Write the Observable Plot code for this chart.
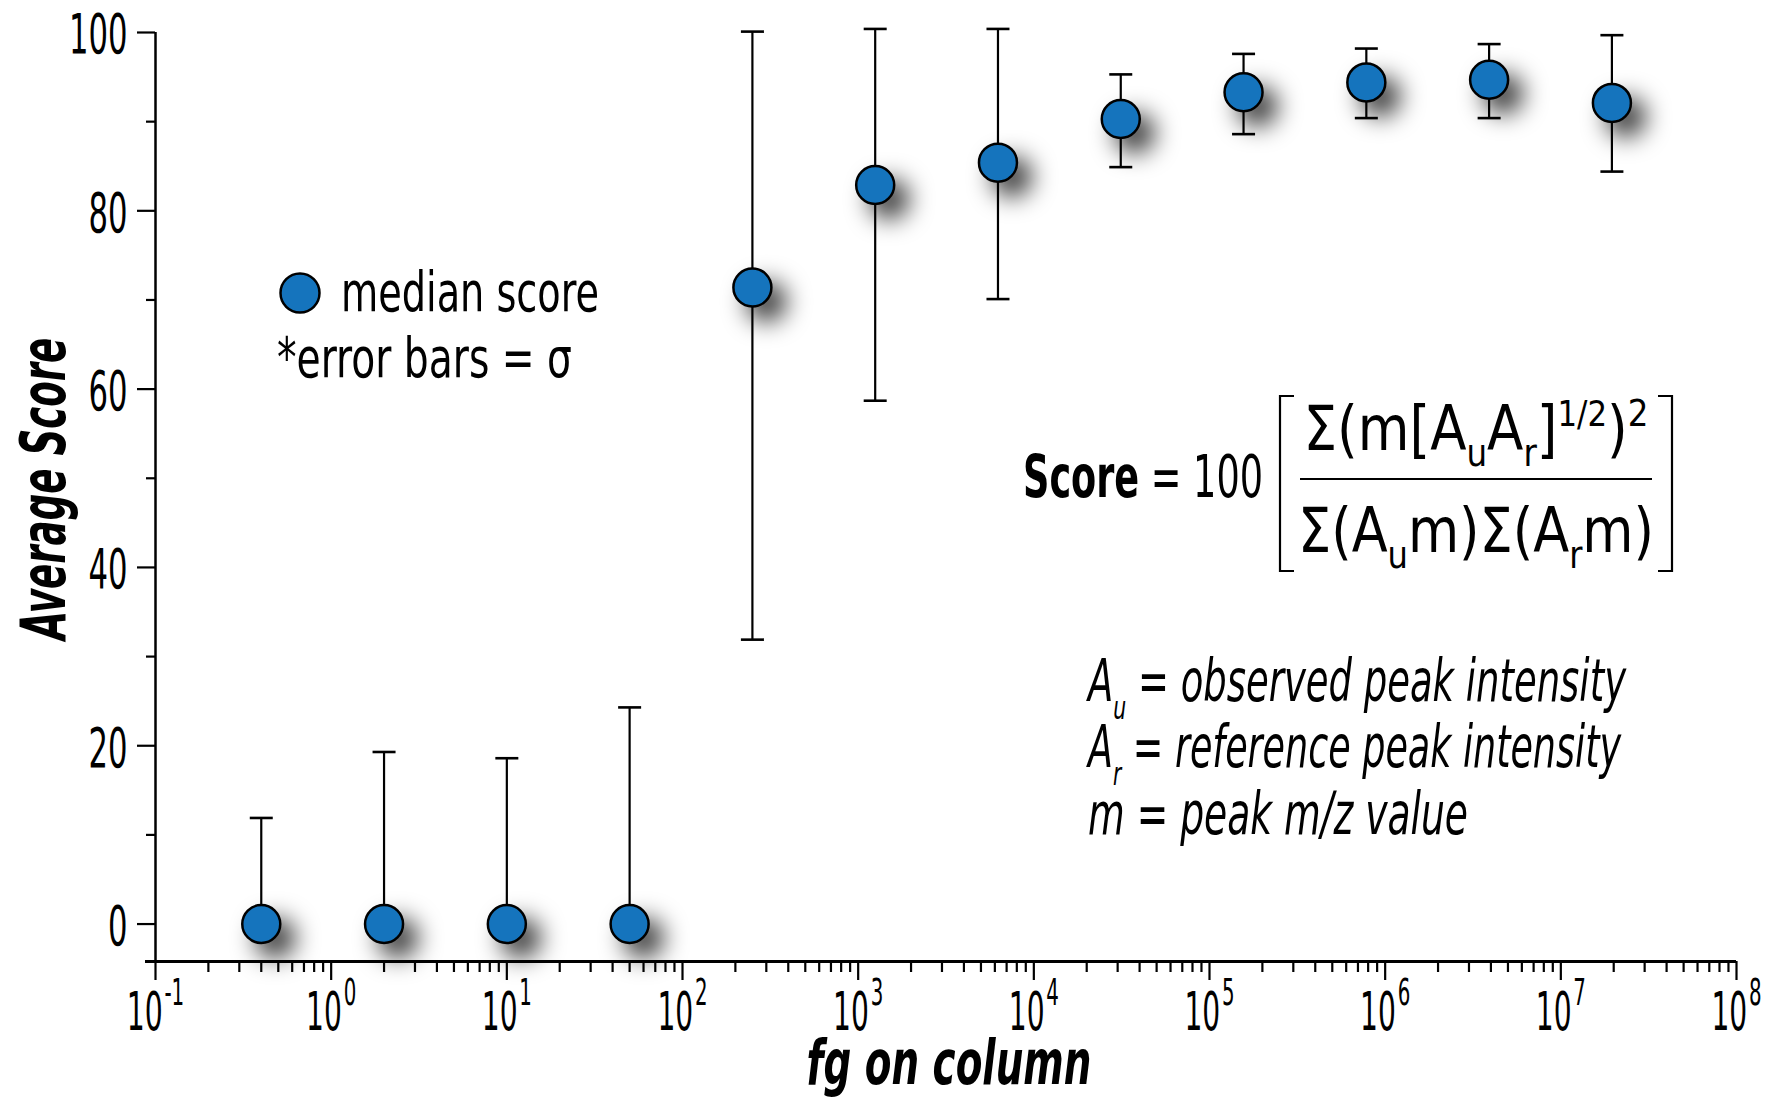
<!DOCTYPE html>
<html><head><meta charset="utf-8">
<script src="https://cdn.jsdelivr.net/npm/d3@7"></script>
<script src="https://cdn.jsdelivr.net/npm/@observablehq/plot@0.6"></script>
<style>
body{margin:0;background:#fff;}
#wrap{position:relative;width:1773px;height:1099px;}
svg{display:block;}
</style></head><body><div id="wrap"></div>
<script>
// ---- data ----
const fgOnColumn = [0.4, 2, 10, 50, 250, 1250, 6250, 31250, 156250, 781250, 3906250, 19531250];
const medianScore = [0, 0, 0, 0, 71.4, 82.9, 85.4, 90.3, 93.3, 94.4, 94.7, 92.1];
const errLow  = [0, 0, 0, 0, 31.9, 58.7, 70.1, 84.9, 88.6, 90.4, 90.4, 84.4];
const errHigh = [11.9, 19.3, 18.6, 24.3, 100.1, 100.4, 100.4, 95.3, 97.6, 98.2, 98.7, 99.7];
const yMajorTicks = [0, 20, 40, 60, 80, 100];
const yMinorTicks = [10, 30, 50, 70, 90];
const xMajorExponents = [-1, 0, 1, 2, 3, 4, 5, 6, 7, 8];
const xMinorMultipliers = [2, 3, 4, 5, 6, 7, 8, 9];
const xLabel = "fg on column";
const yLabel = "Average Score";

const xMajorTicks = xMajorExponents.map(e => Math.pow(10, e));
const xMinorTicks = xMajorExponents.slice(0, -1).flatMap(e => xMinorMultipliers.map(m => m * Math.pow(10, e)));
const data = fgOnColumn.map((f, i) => ({fg: f, median: medianScore[i], lo: errLow[i], hi: errHigh[i]}));

const FONT = '"Liberation Sans Narrow","DejaVu Sans Condensed","DejaVu Sans",sans-serif';
const BLUE = "#1574bd";
const capSymbol = {draw(ctx) { ctx.moveTo(-11.5, 0); ctx.lineTo(11.5, 0); }};

const chart = Plot.plot({
  width: 1773, height: 1099,
  marginLeft: 155, marginRight: 37, marginTop: 32, marginBottom: 138,
  x: {type: "log", domain: [0.1, 1e8]},
  y: {domain: [-4.2, 100]},
  style: {fontFamily: FONT, color: "#000", background: "#fff", overflow: "visible"},
  marks: [
    Plot.axisY({ticks: yMinorTicks, tickSize: 9, tickFormat: () => "", strokeWidth: 2.2, label: null}),
    Plot.axisY({ticks: yMajorTicks, tickSize: 18, tickPadding: 10, strokeWidth: 2.2, fontSize: "56px", label: null}),
    Plot.axisX({ticks: xMinorTicks, tickSize: 11, tickFormat: () => "", strokeWidth: 2.2, label: null}),
    Plot.axisX({ticks: xMajorTicks, tickSize: 19, tickPadding: 13, strokeWidth: 2.2, fontSize: "54px",
      tickFormat: d => String(Math.round(Math.log10(d))), label: null}),
    Plot.ruleX([0.1], {stroke: "#000", strokeWidth: 2.5}),
    Plot.ruleY([-4.2], {stroke: "#000", strokeWidth: 3, insetLeft: -10}),
    // shadows
    Plot.dot(data, {x: "fg", y: "median", r: 20, fill: "#000", fillOpacity: 0.78, dx: 14, dy: 14}),
    // error bars
    Plot.ruleX(data, {x: "fg", y1: "lo", y2: "hi", stroke: "#000", strokeWidth: 2.2}),
    Plot.dot(data, {x: "fg", y: "hi", symbol: capSymbol, stroke: "#000", fill: "none", strokeWidth: 2.6}),
    Plot.dot(data, {x: "fg", y: "lo", symbol: capSymbol, stroke: "#000", fill: "none", strokeWidth: 2.6}),
    // median points
    Plot.dot(data, {x: "fg", y: "median", r: 19, fill: BLUE, stroke: "#000", strokeWidth: 2.5}),
    // axis titles
    Plot.text([yLabel], {text: d => d, frameAnchor: "left", rotate: -90, dx: -91, lineAnchor: "bottom",
      fontSize: 62, fontWeight: "bold", fontStyle: "italic", fill: "#000"}),
    Plot.text([xLabel], {text: d => d, frameAnchor: "bottom", dx: 5, dy: 122, lineAnchor: "bottom",
      fontSize: 62, fontWeight: "bold", fontStyle: "italic", fill: "#000"})
  ]
});
const wrap = document.getElementById("wrap");
wrap.appendChild(chart);
const svg = d3.select(chart);
const W0 = wrap.getBoundingClientRect();

// shadow filter
const defs = svg.insert("defs", ":first-child");
defs.append("filter").attr("id", "dotShadow").attr("x", "-200%").attr("y", "-200%").attr("width", "500%").attr("height", "500%")
  .append("feGaussianBlur").attr("stdDeviation", 12);
svg.select('g[aria-label="dot"]').attr("filter", "url(#dotShadow)");

// drop empty minor labels
svg.selectAll('g[aria-label$="tick label"] text').filter(function() { return this.textContent === ""; }).remove();

function fitW(el, w) { el.setAttribute("textLength", w); el.setAttribute("lengthAdjust", "spacingAndGlyphs"); }
function prependShift(el, dx, dy) {
  el.setAttribute("transform", `translate(${dx},${dy}) ` + (el.getAttribute("transform") || ""));
}

// x tick labels as 10^e, baseline set explicitly
svg.selectAll('g[aria-label="x-axis tick label"] text').each(function() {
  const e = this.textContent;
  const t = d3.select(this);
  t.text(null).attr("y", 0).attr("dy", 0);
  t.append("tspan").attr("font-size", 54).text("10");
  t.append("tspan").attr("dx", 3).attr("dy", -25).attr("font-size", 38).text(e);
  fitW(this, this.getComputedTextLength() * 0.6);
  const m = this.getCTM();
  prependShift(this, 0, 1030 - m.f);
});

// y tick labels: condensed digits
svg.selectAll('g[aria-label="y-axis tick label"] text').each(function() {
  fitW(this, this.textContent.length * 19.5);
  prependShift(this, 0, 3);
});

// axis titles: condense and centre
svg.selectAll('g[aria-label="text"] text').each(function() {
  const isY = this.textContent === yLabel;
  fitW(this, isY ? 302 : 285);
  const r = this.getBoundingClientRect();
  if (isY) {
    const cy = r.top - W0.top + r.height / 2;
    prependShift(this, 0, 490 - cy);
  } else {
    const cx = r.left - W0.left + r.width / 2;
    prependShift(this, 949 - cx, 0);
  }
});

// annotations
const ann = svg.append("g").attr("font-family", FONT).attr("fill", "#000").attr("text-anchor", "start");
ann.append("circle").attr("cx", 300).attr("cy", 293).attr("r", 19.5).attr("fill", BLUE).attr("stroke", "#000").attr("stroke-width", 2.5);
const t1 = ann.append("text").attr("x", 341).attr("y", 311).attr("font-size", 56).text("median score");
fitW(t1.node(), 258);
const t2 = ann.append("text").attr("x", 277).attr("y", 377).attr("font-size", 56).text("*error bars = σ");
fitW(t2.node(), 295);

// formula
const s = ann.append("text").attr("x", 1023).attr("y", 497).attr("font-size", 58);
s.append("tspan").attr("font-weight", "bold").text("Score");
s.append("tspan").text(" = 100");
fitW(s.node(), 240);
ann.append("path").attr("fill", "none").attr("stroke", "#000").attr("stroke-width", 2.2)
  .attr("d", "M1294,396H1280V571H1294 M1658,396H1672V571H1658 M1300,479H1652");
const num = ann.append("text").attr("x", 1476).attr("y", 450).attr("font-size", 62).attr("text-anchor", "middle");
num.append("tspan").text("Σ(m[A");
num.append("tspan").attr("font-size", 38).attr("dy", 16).text("u");
num.append("tspan").attr("dy", -16).text("A");
num.append("tspan").attr("font-size", 38).attr("dy", 16).text("r");
num.append("tspan").attr("dy", -16).text("]");
num.append("tspan").attr("font-size", 36).attr("dy", -24).text("1/2");
num.append("tspan").attr("dy", 24).text(")");
num.append("tspan").attr("font-size", 38).attr("dy", -24).text("2");
fitW(num.node(), 345);
const den = ann.append("text").attr("x", 1476).attr("y", 552).attr("font-size", 62).attr("text-anchor", "middle");
den.append("tspan").text("Σ(A");
den.append("tspan").attr("font-size", 38).attr("dy", 16).text("u");
den.append("tspan").attr("dy", -16).text("m)Σ(A");
den.append("tspan").attr("font-size", 38).attr("dy", 16).text("r");
den.append("tspan").attr("dy", -16).text("m)");
fitW(den.node(), 356);

// definitions
const defsTxt = [
  {sym: "A", sub: "u", rest: " = observed peak intensity", y: 701, w: 538},
  {sym: "A", sub: "r", rest: " = reference peak intensity", y: 767, w: 533},
  {sym: "m", sub: "", rest: " = peak m/z value", y: 834, w: 380}
];
defsTxt.forEach(d => {
  const t = ann.append("text").attr("x", 1088).attr("y", d.y).attr("font-size", 58).attr("font-style", "italic");
  t.append("tspan").text(d.sym);
  if (d.sub) {
    t.append("tspan").attr("font-size", 32).attr("dy", 18).text(d.sub);
    t.append("tspan").attr("dy", -18).text(d.rest);
  } else {
    t.append("tspan").text(d.rest);
  }
  fitW(t.node(), d.w);
});
</script></body></html>
